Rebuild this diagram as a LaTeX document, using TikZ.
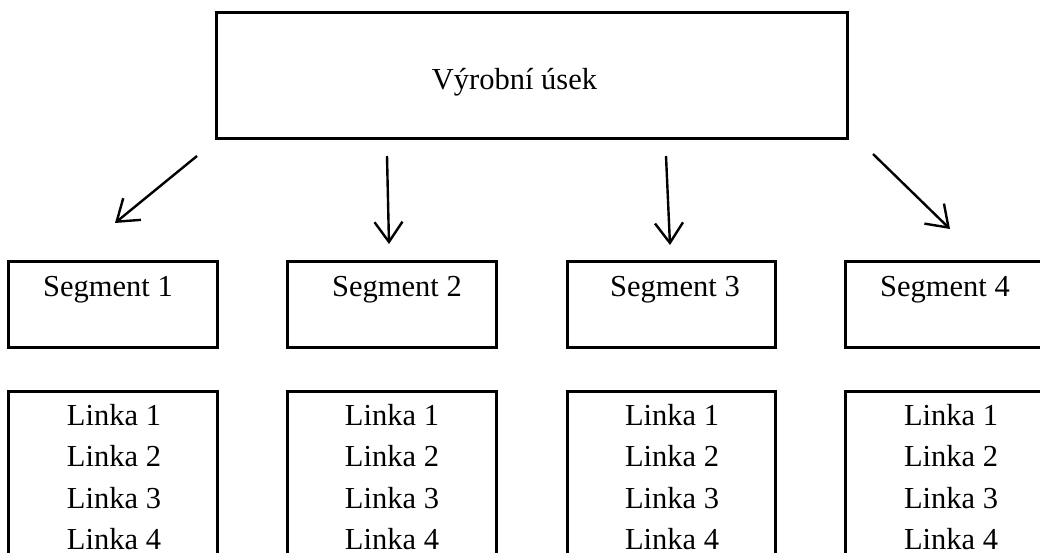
\documentclass[tikz,border=0pt]{standalone}
\usepackage{fontspec}
\setmainfont{Liberation Serif}
\usetikzlibrary{arrows.meta}
\begin{document}
\begin{tikzpicture}[x=1pt,y=-1pt,
  boxstyle/.style={draw, line width=3pt, rectangle, inner sep=0pt},
  lbl/.style={font=\fontsize{30.5}{41.5}\selectfont, inner sep=0pt},
  arr/.style={line width=2.4pt, -{Straight Barb[length=20pt,width=28pt,line width=2.4pt]}},
]
\clip (0,0) rectangle (1040,553);
\fill[white] (0,0) rectangle (1040,553);
% top box
\node[boxstyle, minimum width=631pt, minimum height=126pt] (top) at (531.5,76) {};
\node[lbl, anchor=base] (toptext) at (514.5,90) {Výrobní úsek};
% segment boxes
\node[boxstyle, minimum width=209pt, minimum height=86pt] (s1) at (112.5,304) {};
\node[boxstyle, minimum width=209pt, minimum height=86pt] (s2) at (391.5,304) {};
\node[boxstyle, minimum width=208pt, minimum height=86pt] (s3) at (671,304) {};
\node[boxstyle, minimum width=209pt, minimum height=86pt] (s4) at (949.5,304) {};
\node[lbl, anchor=base] (s1t) at (108,296) {Segment 1};
\node[lbl, anchor=base] (s2t) at (397,296) {Segment 2};
\node[lbl, anchor=base] (s3t) at (675,296) {Segment 3};
\node[lbl, anchor=base] (s4t) at (945,296) {Segment 4};
% line boxes
\node[boxstyle, minimum width=209pt, minimum height=200pt, anchor=north] (l1) at (112.5,390) {};
\node[boxstyle, minimum width=209pt, minimum height=200pt, anchor=north] (l2) at (391.5,390) {};
\node[boxstyle, minimum width=208pt, minimum height=200pt, anchor=north] (l3) at (671,390) {};
\node[boxstyle, minimum width=209pt, minimum height=200pt, anchor=north] (l4) at (949.5,390) {};
\node[lbl, align=center, anchor=north] (l1t) at (114,404) {Linka 1\\Linka 2\\Linka 3\\Linka 4};
\node[lbl, align=center, anchor=north] (l2t) at (392,404) {Linka 1\\Linka 2\\Linka 3\\Linka 4};
\node[lbl, align=center, anchor=north] (l3t) at (672,404) {Linka 1\\Linka 2\\Linka 3\\Linka 4};
\node[lbl, align=center, anchor=north] (l4t) at (951,404) {Linka 1\\Linka 2\\Linka 3\\Linka 4};
% arrows
\coordinate (a1s) at (197,156); \coordinate (a1e) at (115,223);
\coordinate (a2s) at (387,156); \coordinate (a2e) at (389,244);
\coordinate (a3s) at (666,156); \coordinate (a3e) at (670,245);
\coordinate (a4s) at (873,154); \coordinate (a4e) at (950,229);
\draw[arr] (a1s) -- (a1e);
\draw[arr] (a2s) -- (a2e);
\draw[arr] (a3s) -- (a3e);
\draw[arr] (a4s) -- (a4e);
\end{tikzpicture}
\end{document}
